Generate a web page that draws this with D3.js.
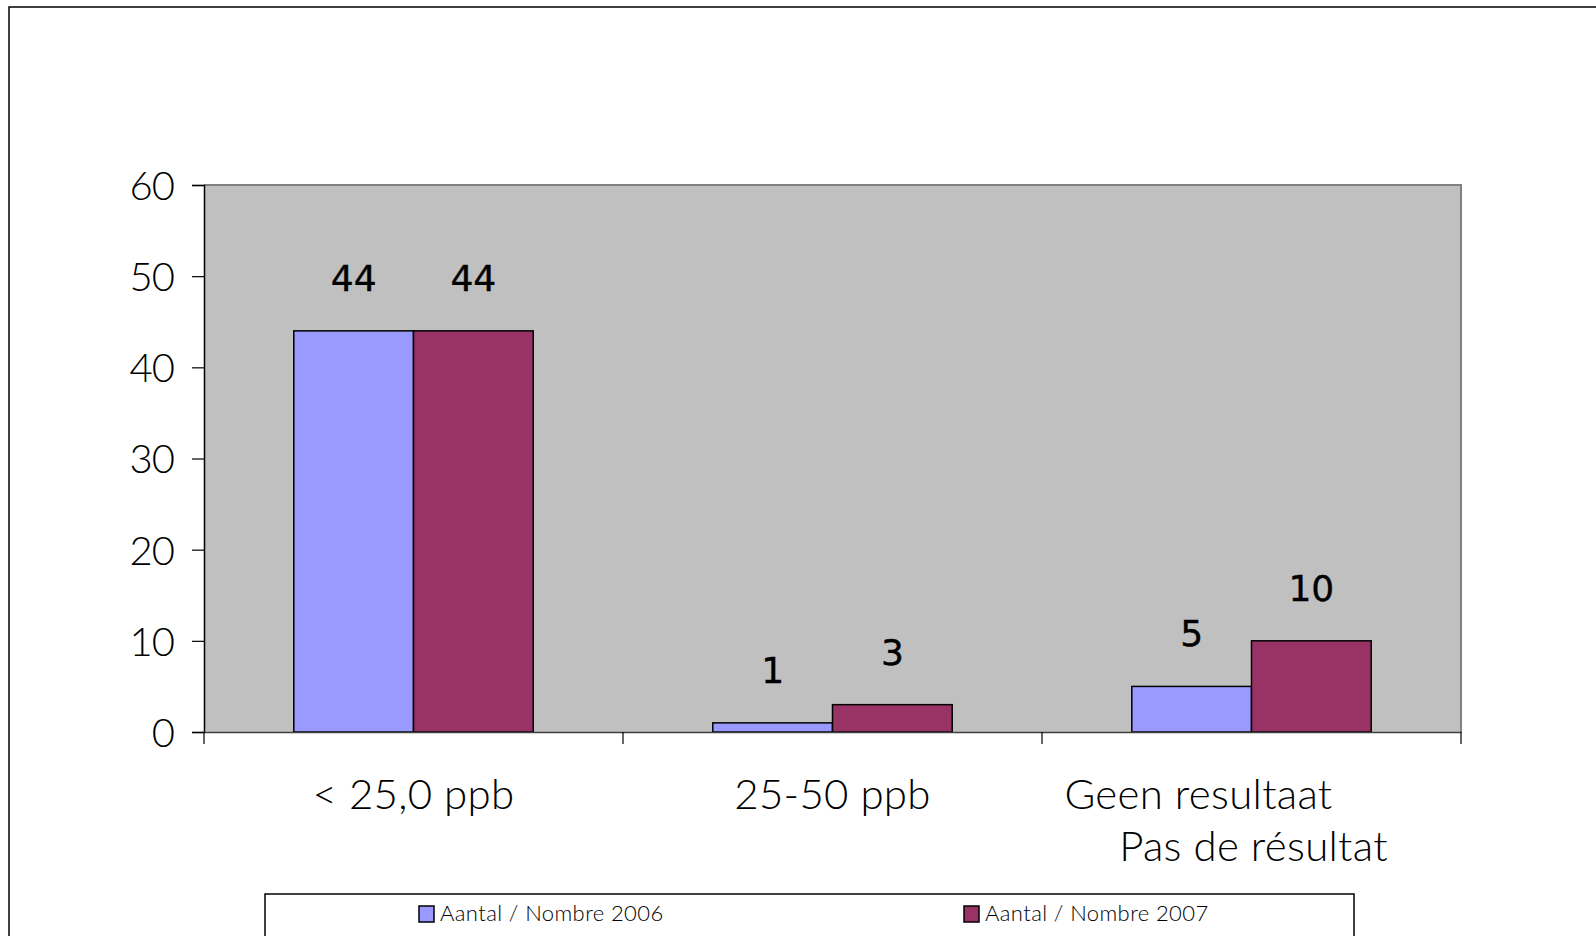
<!DOCTYPE html>
<html><head><meta charset="utf-8">
<script src="https://cdn.jsdelivr.net/npm/d3@7"></script>
<style>
html,body{margin:0;padding:0;background:#fff;overflow:hidden;}
svg{display:block;}
</style></head>
<body>
<svg id="chart" width="1596" height="936"></svg>
<script>
const categories = ["< 25,0 ppb", "25-50 ppb", "Geen resultaat|Pas de résultat"];
const seriesNames = ["Aantal / Nombre 2006", "Aantal / Nombre 2007"];
const values2006 = [44, 1, 5];
const values2007 = [44, 3, 10];
const yTicks = [0, 10, 20, 30, 40, 50, 60];
const colors = ["#9999FF", "#993366"];

const seriesValues = [values2006, values2007];
const data = categories.map((c, i) => ({cat: c, vals: seriesNames.map((s, j) => ({s, v: seriesValues[j][i], j}))}));

const svg = d3.select("#chart");
const L = 204, R = 1461, T = 185, B = 732;
const mainFont = "Lato, 'Open Sans', sans-serif";

// outer frame
svg.append("rect").attr("x", 9).attr("y", 7).attr("width", 1620).attr("height", 960)
  .attr("fill", "none").attr("stroke", "#000").attr("stroke-width", 1.5);

const x = d3.scaleBand().domain(categories).range([L, R]).paddingInner(0).paddingOuter(0);
const xs = d3.scaleBand().domain(seriesNames).range([0, x.bandwidth()]).paddingInner(0).paddingOuter(0.75);
const y = d3.scaleLinear().domain([0, 60]).range([B, T]);

// plot area
svg.append("rect").attr("x", L).attr("y", T).attr("width", R - L).attr("height", B - T).attr("fill", "#C0C0C0");
svg.append("path").attr("d", `M${L},${T}H${R}V${B}`).attr("fill", "none").attr("stroke", "#808080").attr("stroke-width", 2);

// bars
const g = svg.append("g");
const groups = g.selectAll("g.cat").data(data).join("g").attr("transform", d => `translate(${x(d.cat)},0)`);
groups.selectAll("rect").data(d => d.vals).join("rect")
  .attr("x", d => xs(d.s)).attr("width", xs.bandwidth())
  .attr("y", d => y(d.v)).attr("height", d => B - y(d.v))
  .attr("fill", d => colors[d.j]).attr("stroke", "#000").attr("stroke-width", 1.5);
groups.selectAll("text").data(d => d.vals).join("text")
  .attr("x", d => xs(d.s) + xs.bandwidth() / 2).attr("y", d => y(d.v) - 40)
  .attr("text-anchor", "middle").attr("font-family", "'DejaVu Sans', sans-serif")
  .attr("font-size", 36).attr("fill", "#000").attr("stroke", "#000").attr("stroke-width", 0.4)
  .text(d => d.v);

// y axis
const yAxis = svg.append("g").attr("transform", `translate(${L},0)`)
  .call(d3.axisLeft(y).tickValues(yTicks).tickSize(12).tickPadding(18).tickFormat(d3.format("d")));
yAxis.select(".domain").attr("stroke", "#000").attr("stroke-width", 1.5);
yAxis.selectAll(".tick line").attr("stroke", "#000").attr("stroke-width", 1.2);
yAxis.selectAll("text").attr("font-family", mainFont).attr("font-size", 40).attr("font-weight", 300)
  .attr("fill", "#000").attr("letter-spacing", -1).attr("dy", "0.36em");

// x axis
const xAxis = svg.append("g").attr("transform", `translate(0,${B})`)
  .call(d3.axisBottom(x).tickSize(0).tickFormat(""));
xAxis.select(".domain").attr("stroke", "#404040").attr("stroke-width", 1.5);
const bounds = [L].concat(categories.map(c => x(c) + x.bandwidth()));
xAxis.selectAll("line.sep").data(bounds).join("line").attr("class", "sep")
  .attr("x1", d => d).attr("x2", d => d).attr("y1", 0).attr("y2", 12)
  .attr("stroke", "#000").attr("stroke-width", 1.2);

// category labels
const catOffsets = [[0], [0], [-53, 2]];
categories.forEach((c, i) => {
  const lines = c.split("|");
  const cx = x(c) + x.bandwidth() / 2;
  const t = svg.append("text").attr("font-family", mainFont).attr("font-size", 42).attr("font-weight", 300)
    .attr("text-anchor", "middle").attr("fill", "#000").attr("letter-spacing", 0.3);
  lines.forEach((ln, k) => {
    t.append("tspan").attr("x", cx + catOffsets[i][k]).attr("y", 809 + k * 52).text(ln);
  });
});

// legend
svg.append("rect").attr("x", 265).attr("y", 894).attr("width", 1089).attr("height", 80)
  .attr("fill", "#fff").attr("stroke", "#000").attr("stroke-width", 1.5);
const legX = [419, 964];
const leg = svg.selectAll("g.leg").data(seriesNames).join("g").attr("class", "leg")
  .attr("transform", (d, i) => `translate(${legX[i]},906)`);
leg.append("rect").attr("width", 15).attr("height", 16).attr("fill", (d, i) => colors[i])
  .attr("stroke", "#000").attr("stroke-width", 1.5);
leg.append("text").attr("x", 21).attr("y", 15).attr("font-family", mainFont).attr("font-size", 22)
  .attr("font-weight", 300).attr("letter-spacing", 0.4).attr("fill", "#000").text(d => d);
</script>
</body></html>
